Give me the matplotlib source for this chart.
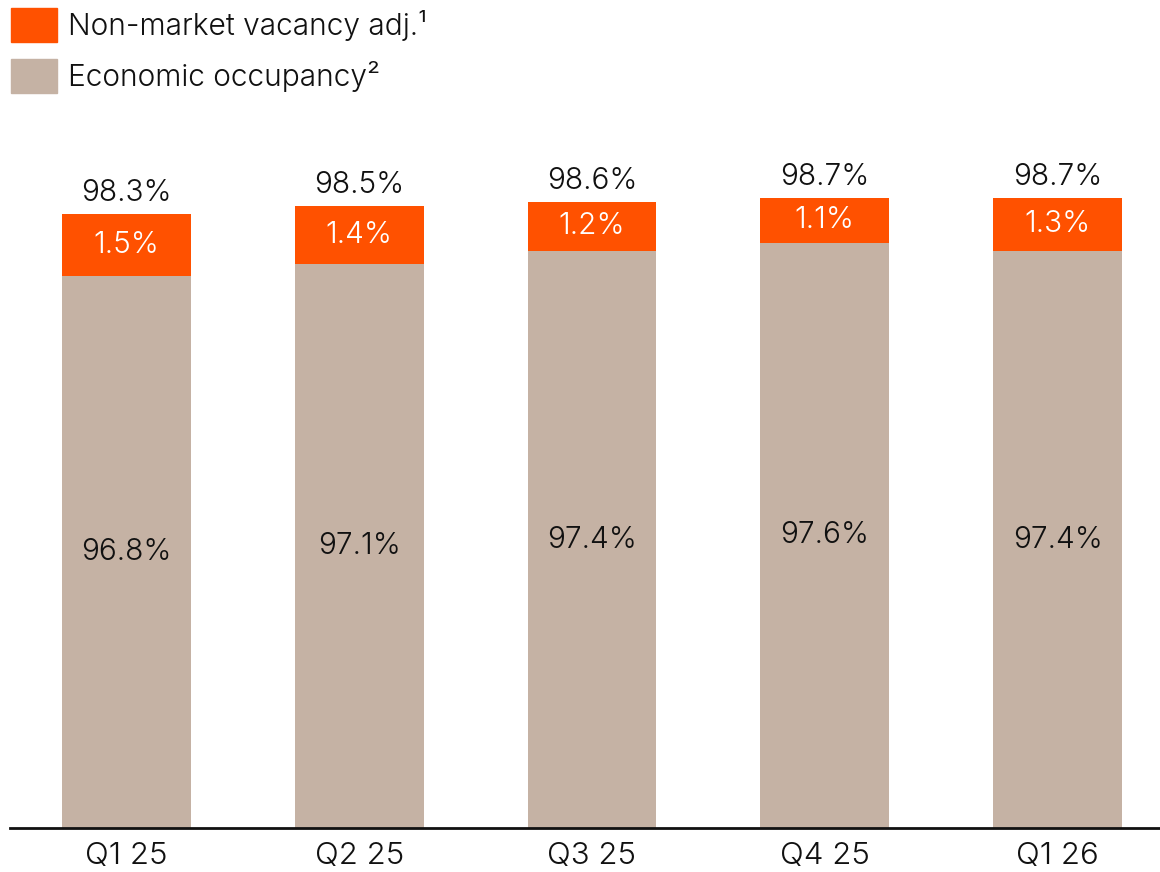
import matplotlib
matplotlib.use("Agg")
import matplotlib.pyplot as plt
from matplotlib.patches import Patch

categories = ["Q1 25", "Q2 25", "Q3 25", "Q4 25", "Q1 26"]
economic = [96.8, 97.1, 97.4, 97.6, 97.4]
nonmarket = [1.5, 1.4, 1.2, 1.1, 1.3]
totals = [98.3, 98.5, 98.6, 98.7, 98.7]

ORANGE = "#FF5100"
TAN = "#C5B2A4"
plt.rcParams['font.family'] = ['Inter', 'DejaVu Sans']
plt.rcParams['font.weight'] = 300
FS = 21.5
TFS = 22.5
LFS = 21.5

fig = plt.figure(figsize=(11.6, 8.72), dpi=100)
ax = fig.add_axes([10/1160, 1 - 828/872, 1150/1160, (828 - 130)/872])

x = list(range(len(categories)))
base = 83.4
bottoms = [base] * len(x)
econ_h = [e - base for e in economic]
ax.bar(x, econ_h, bottom=bottoms, width=0.554, color=TAN)
ax.bar(x, nonmarket, bottom=economic, width=0.554, color=ORANGE)

for i in x:
    ax.text(i, (base + economic[i]) / 2, f"{economic[i]:.1f}%", ha="center", va="center",
            fontsize=FS, color="#111111")
    ax.text(i, economic[i] + nonmarket[i] / 2, f"{nonmarket[i]:.1f}%", ha="center", va="center",
            fontsize=FS, color="white")
    ax.text(i, economic[i] + nonmarket[i] + 0.17, f"{totals[i]:.1f}%", ha="center", va="bottom",
            fontsize=FS, color="#111111")

ax.set_ylim(base, base + (828 - 130) / 41.2)
ax.set_xlim(-0.5, 4.44)
ax.set_xticks(x)
ax.set_xticklabels(categories, fontsize=TFS, color="#111111")
ax.tick_params(axis="x", length=0, pad=10)
ax.set_yticks([])
for s in ["top", "right", "left"]:
    ax.spines[s].set_visible(False)
ax.spines["bottom"].set_linewidth(2)
ax.spines["bottom"].set_color("#111111")

handles = [Patch(color=ORANGE, label="Non-market vacancy adj.¹"),
           Patch(color=TAN, label="Economic occupancy²")]
leg = fig.legend(handles=handles, loc="upper left", bbox_to_anchor=(11/1160, 1 - 8/872),
                 frameon=False, handlelength=1.55, handleheight=1.38, handletextpad=0.35,
                 labelspacing=0.55, borderaxespad=0.0, borderpad=0.0,
                 prop={"size": LFS, "weight": 300})
for t in leg.get_texts():
    t.set_color("#111111")

fig.savefig("out.png", dpi=100)
